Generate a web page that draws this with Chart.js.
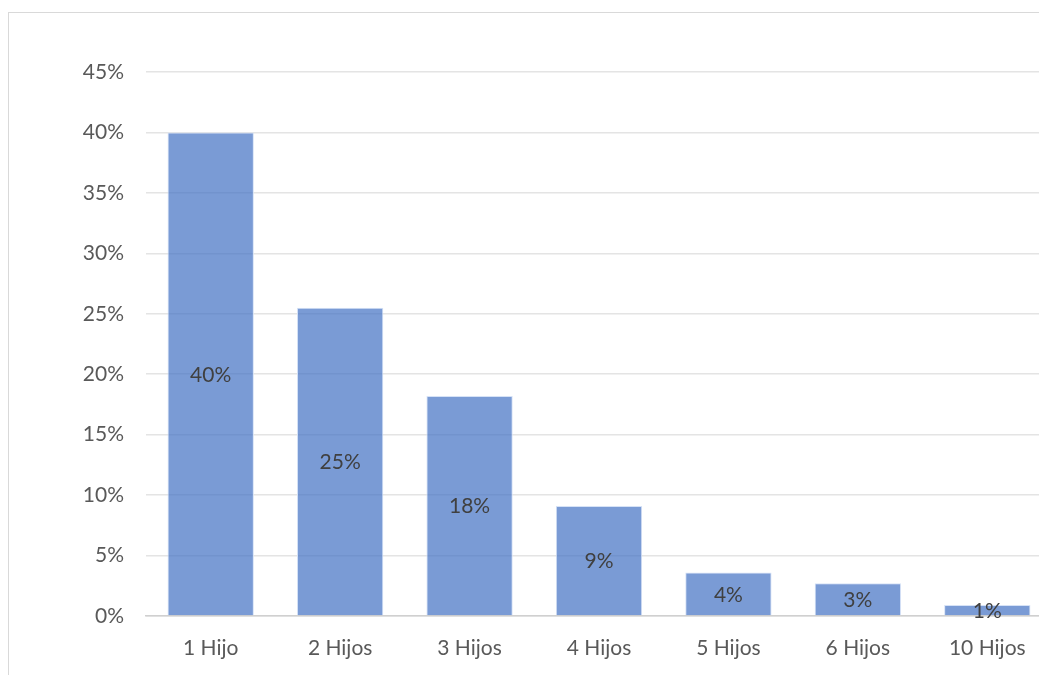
<!DOCTYPE html>
<html>
<head>
<meta charset="utf-8">
<script src="https://cdn.jsdelivr.net/npm/chart.js@4/dist/chart.umd.min.js"></script>
<style>
  html, body { margin: 0; padding: 0; background: #fff; overflow: hidden; }
  .frame {
    position: absolute; left: 8px; top: 12px; width: 1100px; height: 700px;
    border-top: 1.5px solid #d9d9d9; border-left: 1.5px solid #d9d9d9;
  }
  .chart-box { position: absolute; left: 0; top: 0; width: 1052px; height: 675px; }
</style>
</head>
<body>
<div class="frame"></div>
<div class="chart-box"><canvas id="hijos"></canvas></div>
<script>
const categories = ["1 Hijo", "2 Hijos", "3 Hijos", "4 Hijos", "5 Hijos", "6 Hijos", "10 Hijos"];
const shares = [40.0, 25.5, 18.2, 9.1, 3.6, 2.7, 0.9];
const shareLabels = ["40%", "25%", "18%", "9%", "4%", "3%", "1%"];

// labels in the middle of every bar, like Excel "center" labels
const centerLabels = {
  id: "centerLabels",
  afterDatasetsDraw(chart) {
    const ctx = chart.ctx;
    const meta = chart.getDatasetMeta(0);
    ctx.save();
    ctx.font = "21px Lato";
    ctx.fillStyle = "#404040";
    ctx.textAlign = "center";
    ctx.textBaseline = "middle";
    meta.data.forEach((bar, i) => {
      const mid = (bar.y + bar.base) / 2;
      ctx.fillText(shareLabels[i], bar.x, mid + 1);
    });
    ctx.restore();
  }
};

Chart.defaults.font.family = "Lato";
Chart.defaults.font.size = 21;
Chart.defaults.color = "#595959";

new Chart(document.getElementById("hijos"), {
  type: "bar",
  data: {
    labels: categories,
    datasets: [{
      data: shares,
      backgroundColor: "rgba(68, 114, 196, 0.71)",
      borderColor: "rgba(214, 226, 246, 1)",
      borderWidth: 1,
      categoryPercentage: 1,
      barPercentage: 0.667
    }]
  },
  options: {
    responsive: true,
    maintainAspectRatio: false,
    animation: false,
    layout: { padding: { top: 72, left: 0, right: 0, bottom: 0 } },
    plugins: { legend: { display: false }, tooltip: { enabled: false } },
    scales: {
      x: {
        grid: { display: false, drawTicks: false },
        border: { color: "#d0d0d0", width: 1.5 },
        ticks: { padding: 20 },
        afterFit(scale) { scale.height = 59; }
      },
      y: {
        min: 0,
        max: 45,
        grid: { color: "#e4e4e4", lineWidth: 1.5, drawTicks: false },
        border: { display: false },
        ticks: {
          stepSize: 5,
          padding: 22,
          callback: v => v + "%"
        },
        afterFit(scale) { scale.width = 146; }
      }
    }
  },
  plugins: [centerLabels]
});
</script>
</body>
</html>
